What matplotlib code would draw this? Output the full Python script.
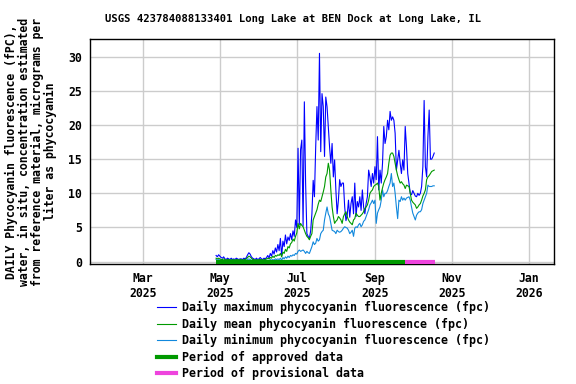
import matplotlib
matplotlib.use("Agg")
import matplotlib.pyplot as plt
import matplotlib.dates as mdates
from matplotlib.lines import Line2D
import numpy as np

# ── data (daily values, starting 2025-04-28) ───────────────────────────────────
start_date = "2025-04-28"

daily_max = [
    0.9, 0.7, 1.0, 0.8, 0.6, 0.5, 0.7, 0.4, 0.3, 0.5,
    0.4, 0.3, 0.5, 0.3, 0.4, 0.3, 0.5, 0.4, 0.3, 0.4,
    0.4, 0.3, 0.5, 0.4, 0.6, 1.0, 1.3, 1.1, 0.7, 0.5,
    0.4, 0.3, 0.5, 0.3, 0.4, 0.6, 0.4, 0.3, 0.5, 0.4,
    0.6, 0.9, 0.5, 1.2, 0.8, 1.6, 1.1, 2.0, 1.4, 2.5,
    1.6, 3.4, 0.8, 3.0, 2.2, 3.9, 2.6, 3.6, 3.1, 4.1,
    3.2, 4.5, 3.7, 6.1, 5.0, 16.6, 5.4, 16.4, 17.8, 5.2,
    23.4, 11.5, 4.1, 3.7, 3.4, 4.5, 7.0, 11.9, 9.5, 16.8,
    22.7, 17.8, 30.5, 16.1, 24.6, 22.7, 15.4, 24.1, 22.7, 19.8,
    16.8, 14.4, 17.3, 12.4, 14.9, 10.5, 7.0, 9.0, 12.0, 11.0,
    11.5, 11.5, 8.0, 6.0, 6.8, 9.0, 6.5, 8.5, 9.5, 7.0,
    11.5, 6.6, 8.8, 8.0, 9.5, 7.5, 10.5, 8.0, 7.0, 8.5,
    9.5, 13.4, 12.4, 11.0, 12.9, 11.5, 13.9, 12.0, 18.3, 10.5,
    13.4, 11.5, 14.4, 19.8, 17.3, 18.3, 20.7, 19.3, 22.0, 20.7,
    21.2, 20.7, 18.8, 13.4, 14.9, 16.3, 14.4, 12.9, 14.9, 13.4,
    19.8, 16.8, 12.9, 11.5, 10.0, 9.8, 10.4, 10.0, 9.6, 9.5,
    10.0, 9.7, 10.0, 11.0, 13.9, 23.6, 13.9, 12.4, 18.3, 22.2,
    15.0, 15.0, 15.4, 15.9,
]

daily_mean = [
    0.5, 0.4, 0.5, 0.4, 0.3, 0.3, 0.4, 0.3, 0.2, 0.3,
    0.3, 0.2, 0.3, 0.2, 0.3, 0.2, 0.3, 0.3, 0.2, 0.3,
    0.3, 0.2, 0.3, 0.3, 0.4, 0.6, 0.8, 0.7, 0.5, 0.3,
    0.3, 0.2, 0.3, 0.2, 0.3, 0.3, 0.3, 0.2, 0.3, 0.3,
    0.4, 0.5, 0.4, 0.6, 0.5, 0.8, 0.6, 0.9, 0.8, 1.0,
    0.9, 1.2, 0.7, 1.4, 1.2, 1.8, 1.5, 2.2, 2.0, 2.6,
    2.8, 3.3, 3.0, 3.7, 4.2, 5.6, 4.8, 5.6, 5.3, 5.1,
    4.6, 4.1, 3.7, 3.5, 3.2, 3.7, 4.1, 6.1, 6.6, 7.1,
    7.6, 8.4, 9.0, 8.8, 9.5, 10.2, 11.0, 12.4, 12.9, 14.4,
    13.4, 10.5, 8.0, 6.6, 5.6, 5.9, 6.1, 6.6, 6.4, 6.1,
    5.6, 6.6, 7.0, 7.3, 6.6, 6.1, 5.8, 5.6, 5.4, 6.1,
    6.3, 7.1, 6.8, 6.6, 6.6, 6.8, 7.0, 7.3, 7.8, 8.0,
    8.3, 9.0, 10.0, 10.3, 10.5, 11.0, 11.2, 11.3, 11.5, 11.0,
    9.0, 10.0, 10.8, 11.5, 12.0, 12.4, 12.9, 14.4, 15.6, 15.9,
    15.9, 15.4, 14.4, 13.4, 12.6, 12.0, 11.5, 11.7, 11.4, 11.2,
    10.7, 11.2, 11.1, 11.0, 10.0, 9.0, 8.7, 8.5, 8.3, 7.8,
    8.0, 8.3, 8.5, 9.0, 9.6, 10.0, 10.5, 12.0, 12.4, 12.6,
    12.9, 13.2, 13.3, 13.4,
]

daily_min = [
    0.3, 0.2, 0.3, 0.2, 0.2, 0.1, 0.2, 0.1, 0.1, 0.2,
    0.1, 0.1, 0.2, 0.1, 0.1, 0.1, 0.2, 0.1, 0.1, 0.1,
    0.2, 0.1, 0.1, 0.2, 0.2, 0.3, 0.4, 0.3, 0.2, 0.1,
    0.1, 0.1, 0.2, 0.1, 0.1, 0.2, 0.1, 0.1, 0.1, 0.2,
    0.2, 0.2, 0.1, 0.3, 0.2, 0.3, 0.2, 0.4, 0.3, 0.4,
    0.3, 0.5, 0.2, 0.6, 0.4, 0.7, 0.5, 0.8, 0.6, 0.9,
    0.8, 1.0, 0.9, 1.2, 1.1, 1.5, 1.7, 1.5, 1.6, 1.7,
    1.5, 1.2, 1.5, 1.3, 1.2, 1.7, 2.2, 2.9, 2.5, 2.7,
    3.4, 3.0, 3.2, 4.1, 4.4, 4.6, 6.1, 7.1, 8.0, 7.0,
    6.6, 5.6, 4.6, 4.5, 4.4, 4.1, 4.6, 4.4, 4.3, 4.4,
    4.6, 4.9, 5.1, 5.0, 4.9, 4.6, 4.1, 4.3, 4.6, 3.7,
    4.9, 5.1, 5.0, 5.4, 5.6, 5.1, 5.4, 5.9, 6.1, 6.6,
    7.1, 7.6, 8.3, 8.6, 9.0, 8.5, 9.0, 5.6, 7.1, 7.6,
    8.0, 9.0, 10.5, 9.5, 10.0, 10.0, 10.4, 11.0, 11.5, 12.9,
    11.0, 11.5, 10.0, 8.0, 6.3, 9.0, 8.8, 9.5, 9.0, 9.3,
    9.0, 9.3, 9.4, 9.5, 9.0, 8.0, 7.1, 6.6, 6.1, 6.8,
    7.1, 7.3, 7.3, 7.6, 8.5, 9.0, 9.5, 10.0, 11.2, 11.0,
    11.0, 11.0, 11.1, 11.1,
]

approved_period = ("2025-04-28", "2025-09-25")
provisional_period = ("2025-09-25", "2025-10-19")

tick_dates = ["2025-03-01", "2025-05-01", "2025-07-01",
              "2025-09-01", "2025-11-01", "2026-01-01"]
tick_labels = ["Mar\n2025", "May\n2025", "Jul\n2025",
               "Sep\n2025", "Nov\n2025", "Jan\n2026"]
y_ticks = [0, 5, 10, 15, 20, 25, 30]

title = "USGS 423784088133401 Long Lake at BEN Dock at Long Lake, IL"
ylabel = ("DAILY Phycocyanin fluorescence (fPC),\n"
          "water, in situ, concentration estimated\n"
          "from reference material, micrograms per\n"
          "liter as phycocyanin")
legend_labels = [
    "Daily maximum phycocyanin fluorescence (fpc)",
    "Daily mean phycocyanin fluorescence (fpc)",
    "Daily minimum phycocyanin fluorescence (fpc)",
    "Period of approved data",
    "Period of provisional data",
]

# ── styling ────────────────────────────────────────────────────────────────────
C_MAX, C_MEAN, C_MIN = "#0000ff", "#009900", "#1188dd"
C_APPR, C_PROV = "#009900", "#ee44dd"
FONT = dict(family="DejaVu Sans Mono", weight="bold")

dates = np.datetime64(start_date) + np.arange(len(daily_max))

fig = plt.figure(figsize=(5.76, 3.84), dpi=100)
ax = fig.add_axes([90 / 576, 1 - 264 / 384, 464 / 576, 225 / 384])

ax.plot(dates, daily_max, color=C_MAX, lw=0.8, zorder=3)
ax.plot(dates, daily_mean, color=C_MEAN, lw=0.8, zorder=4)
ax.plot(dates, daily_min, color=C_MIN, lw=0.8, zorder=3)

for (a, b), c in [(approved_period, C_APPR), (provisional_period, C_PROV)]:
    ax.plot([np.datetime64(a), np.datetime64(b)], [0, 0], color=c, lw=3,
            solid_capstyle="butt", zorder=5)

ax.set_xlim(np.datetime64("2025-01-18"), np.datetime64("2026-01-21"))
ax.set_ylim(-0.35, 32.6)

ax.set_xticks([mdates.date2num(np.datetime64(d)) for d in tick_dates])
ax.set_xticklabels(tick_labels, fontsize=8.3, **FONT)
ax.set_yticks(y_ticks)
ax.set_yticklabels([str(v) for v in y_ticks], fontsize=8.3, **FONT)
ax.tick_params(length=0, pad=6)

ax.grid(True, color="#cccccc", lw=1.0)
ax.set_axisbelow(True)
for s in ax.spines.values():
    s.set_linewidth(1.0)
    s.set_color("black")

fig.text(0.509, 0.95, title, ha="center", va="center", fontsize=7.6, **FONT)
fig.text(31 / 576, 0.605, ylabel, ha="center", va="center", rotation=90,
         multialignment="center", fontsize=8.3, linespacing=0.98, **FONT)

handles = [
    Line2D([], [], color=C_MAX, lw=0.8),
    Line2D([], [], color=C_MEAN, lw=0.8),
    Line2D([], [], color=C_MIN, lw=0.8),
    Line2D([], [], color=C_APPR, lw=3),
    Line2D([], [], color=C_PROV, lw=3),
]
fig.legend(handles, legend_labels, loc="upper left",
           bbox_to_anchor=(157 / 576, 1 - 301 / 384), frameon=False,
           prop=dict(size=8.4, **FONT), handlelength=1.6, handletextpad=0.5,
           labelspacing=0.3, borderpad=0, borderaxespad=0)

fig.savefig("out.png", dpi=100)
